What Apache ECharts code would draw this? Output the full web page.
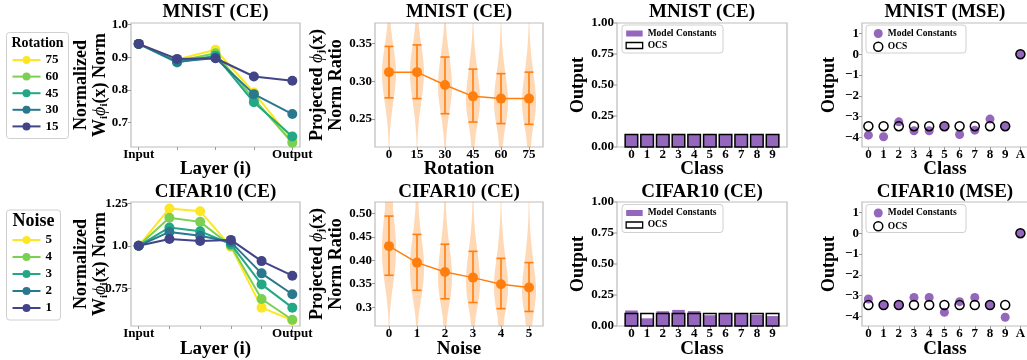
<!DOCTYPE html>
<html><head><meta charset="utf-8">
<script src="https://cdn.jsdelivr.net/npm/echarts@6/dist/echarts.min.js"></script>
<style>html,body{margin:0;padding:0;background:#fff}#c{width:1027px;height:360px}</style>
</head><body><div id="c"></div>
<script>
// ------------------------- DATA -------------------------
const panelTitles = ['MNIST (CE)', 'MNIST (CE)', 'MNIST (CE)', 'MNIST (MSE)',
                     'CIFAR10 (CE)', 'CIFAR10 (CE)', 'CIFAR10 (CE)', 'CIFAR10 (MSE)'];

// Layer-wise normalized norms
const mnistLayerLabels = ['Input', '', '', '', 'Output'];
const cifarLayerLabels = ['Input', '', '', '', '', 'Output'];
const rotationLegend = ['75', '60', '45', '30', '15'];
const mnistNorm75 = [0.941, 0.893, 0.923, 0.792, 0.645];
const mnistNorm60 = [0.941, 0.888, 0.912, 0.772, 0.638];
const mnistNorm45 = [0.941, 0.884, 0.905, 0.762, 0.657];
const mnistNorm30 = [0.941, 0.886, 0.898, 0.787, 0.726];
const mnistNorm15 = [0.941, 0.895, 0.897, 0.841, 0.828];
const noiseLegend = ['5', '4', '3', '2', '1'];
const cifarNorm5 = [1.0, 1.220, 1.204, 0.995, 0.636, 0.562];
const cifarNorm4 = [1.0, 1.165, 1.141, 1.000, 0.687, 0.565];
const cifarNorm3 = [1.0, 1.108, 1.086, 1.010, 0.773, 0.636];
const cifarNorm2 = [1.0, 1.082, 1.059, 1.022, 0.838, 0.715];
const cifarNorm1 = [1.0, 1.040, 1.028, 1.035, 0.910, 0.824];

// Projected norm ratio (violins + mean with error bars)
const rotationLabels = ['0', '15', '30', '45', '60', '75'];
const mnistRatioMean = [0.312, 0.312, 0.295, 0.280, 0.277, 0.277];
const mnistRatioLow  = [0.278, 0.277, 0.257, 0.246, 0.244, 0.243];
const mnistRatioHigh = [0.346, 0.348, 0.332, 0.316, 0.310, 0.312];
const mnistViolinLevels = [0.21, 0.23, 0.25, 0.27, 0.29, 0.31, 0.33, 0.35, 0.37, 0.39];
const mnistViolin0  = [0.03, 0.12, 0.30, 0.58, 0.86, 1.00, 0.86, 0.56, 0.28, 0.10];
const mnistViolin15 = [0.03, 0.12, 0.30, 0.58, 0.85, 1.00, 0.88, 0.58, 0.30, 0.11];
const mnistViolin30 = [0.06, 0.22, 0.48, 0.80, 1.00, 0.92, 0.66, 0.38, 0.17, 0.06];
const mnistViolin45 = [0.15, 0.40, 0.75, 1.00, 0.93, 0.68, 0.42, 0.20, 0.08, 0.03];
const mnistViolin60 = [0.17, 0.44, 0.80, 1.00, 0.90, 0.62, 0.36, 0.17, 0.07, 0.02];
const mnistViolin75 = [0.17, 0.44, 0.80, 1.00, 0.90, 0.63, 0.37, 0.18, 0.07, 0.02];

const noiseLabels = ['0', '1', '2', '3', '4', '5'];
const cifarRatioMean = [0.430, 0.395, 0.375, 0.363, 0.349, 0.342];
const cifarRatioLow  = [0.368, 0.336, 0.318, 0.310, 0.297, 0.291];
const cifarRatioHigh = [0.494, 0.455, 0.434, 0.419, 0.404, 0.395];
const cifarViolinLevels = [0.26, 0.28, 0.30, 0.33, 0.36, 0.39, 0.42, 0.45, 0.48, 0.51, 0.53];
const cifarViolin0 = [0.05, 0.10, 0.20, 0.42, 0.70, 0.92, 1.00, 0.95, 0.78, 0.58, 0.45];
const cifarViolin1 = [0.10, 0.22, 0.40, 0.72, 0.95, 1.00, 0.88, 0.62, 0.40, 0.22, 0.15];
const cifarViolin2 = [0.18, 0.33, 0.55, 0.85, 1.00, 0.93, 0.72, 0.47, 0.27, 0.14, 0.09];
const cifarViolin3 = [0.22, 0.40, 0.63, 0.92, 1.00, 0.86, 0.62, 0.38, 0.20, 0.10, 0.06];
const cifarViolin4 = [0.32, 0.50, 0.74, 0.98, 0.97, 0.76, 0.50, 0.30, 0.15, 0.07, 0.04];
const cifarViolin5 = [0.38, 0.57, 0.80, 1.00, 0.92, 0.68, 0.44, 0.25, 0.12, 0.06, 0.03];

// CE outputs (bars)
const classLabels = ['0', '1', '2', '3', '4', '5', '6', '7', '8', '9'];
const mnistCEModel = [0.100, 0.104, 0.100, 0.100, 0.101, 0.100, 0.100, 0.100, 0.100, 0.100];
const mnistCEOCS   = [0.1, 0.1, 0.1, 0.1, 0.1, 0.1, 0.1, 0.1, 0.1, 0.1];
const cifarCEModel = [0.125, 0.062, 0.119, 0.130, 0.120, 0.087, 0.101, 0.100, 0.090, 0.080];
const cifarCEOCS   = [0.1, 0.1, 0.1, 0.1, 0.1, 0.1, 0.1, 0.1, 0.1, 0.1];

// MSE outputs (scatter)
const classLabelsA = ['0', '1', '2', '3', '4', '5', '6', '7', '8', '9', 'A'];
const mnistMSEModel = [-3.89, -3.97, -3.25, -3.68, -3.68, -3.46, -3.86, -3.65, -3.12, -3.46, 0.0];
const mnistMSEOCS   = [-3.46, -3.46, -3.46, -3.46, -3.46, -3.46, -3.46, -3.46, -3.46, -3.46, 0.0];
const cifarMSEModel = [-3.16, -3.45, -3.45, -3.09, -3.09, -3.80, -3.29, -3.09, -3.45, -4.04, 0.0];
const cifarMSEOCS   = [-3.45, -3.45, -3.45, -3.45, -3.45, -3.45, -3.45, -3.45, -3.45, -3.45, 0.0];

// Tick values / labels
const mnistNormTicks = [0.7, 0.8, 0.9, 1.0];
const mnistNormTickLabels = ['0.7', '0.8', '0.9', '1.0'];
const cifarNormTicks = [0.75, 1.0, 1.25];
const cifarNormTickLabels = ['0.75', '1.0', '1.25'];
const mnistRatioTicks = [0.25, 0.30, 0.35];
const mnistRatioTickLabels = ['0.25', '0.30', '0.35'];
const cifarRatioTicks = [0.30, 0.35, 0.40, 0.45, 0.50];
const cifarRatioTickLabels = ['0.3', '0.35', '0.40', '0.45', '0.50'];
const outputTicks = [0, 0.25, 0.5, 0.75, 1.0];
const outputTickLabels = ['0.00', '0.25', '0.50', '0.75', '1.00'];
const mseTicks = [-4, -3, -2, -1, 0, 1];
const mseTickLabels = ['\u22124', '\u22123', '\u22122', '\u22121', '0', '1'];

// ------------------------- STYLE -------------------------
const FONT = '"Liberation Serif", "DejaVu Serif", serif';
const VIRIDIS = ['#fde725', '#7ad151', '#22a884', '#2a788e', '#414487'];
const ORANGE = '#ff7f0e';
const PURPLE = '#9467bd';
const SPINE = '#bdbdbd';
const colLeft = [131, 375, 617, 862];
const colWidth = [169, 168, 170, 166];
const rowTop = [23, 202];
const rowHeight = 124;

const grids = [];
for (let r = 0; r < 2; r++) for (let c = 0; c < 4; c++) {
  grids.push({left: colLeft[c], top: rowTop[r], width: colWidth[c], height: rowHeight,
    show: true, borderColor: SPINE, borderWidth: 1.2, backgroundColor: 'rgba(0,0,0,0)',
    containLabel: false, outerBoundsMode: 'none'});
}

const tickText = {fontFamily: FONT, fontWeight: 'bold', fontSize: 13, color: '#000'};
function lookup(values, labels) {
  return function (v) {
    const num = Number(v);
    for (let k = 0; k < values.length; k++) if (Math.abs(values[k] - num) < 1e-6) return labels[k];
    return '';
  };
}
function idx(n) { const a = []; for (let k = 0; k < n; k++) a.push(k); return a; }
function xAxis(gi, min, max, labels) {
  const ticks = idx(labels.length);
  const labVals = ticks.filter(k => labels[k] !== '');
  return {type: 'value', gridIndex: gi, min: min, max: max, position: 'bottom',
    axisLine: {show: false, onZero: false}, splitLine: {show: false},
    axisTick: {show: true, length: 3, lineStyle: {color: '#999', width: 1}, customValues: ticks},
    axisLabel: Object.assign({customValues: labVals, formatter: lookup(ticks, labels), margin: 1.5, hideOverlap: false}, tickText)};
}
function yAxis(gi, min, max, ticks, labels, viaGraphic) {
  return {type: 'value', gridIndex: gi, min: min, max: max, position: 'left',
    axisLine: {show: false, onZero: false}, splitLine: {show: false},
    axisTick: {show: !viaGraphic, length: 3, lineStyle: {color: '#999', width: 1}, customValues: ticks},
    axisLabel: Object.assign({show: !viaGraphic, customValues: ticks, formatter: lookup(ticks, labels), margin: 3,
      showMinLabel: true, showMaxLabel: true, hideOverlap: false}, tickText)};
}

const xAxes = [
  xAxis(0, -0.2, 4.2, mnistLayerLabels),
  xAxis(1, -0.5, 5.5, rotationLabels),
  xAxis(2, -0.92, 9.92, classLabels),
  xAxis(3, -0.42, 10.5, classLabelsA),
  xAxis(4, -0.25, 5.25, cifarLayerLabels),
  xAxis(5, -0.5, 5.5, noiseLabels),
  xAxis(6, -0.92, 9.92, classLabels),
  xAxis(7, -0.42, 10.5, classLabelsA)
];
const yAxes = [
  yAxis(0, 0.625, 1.005, mnistNormTicks, mnistNormTickLabels),
  yAxis(1, 0.213, 0.377, mnistRatioTicks, mnistRatioTickLabels),
  yAxis(2, 0, 1, outputTicks, outputTickLabels, true),
  yAxis(3, -4.46, 1.5, mseTicks, mseTickLabels),
  yAxis(4, 0.528, 1.258, cifarNormTicks, cifarNormTickLabels),
  yAxis(5, 0.26, 0.524, cifarRatioTicks, cifarRatioTickLabels),
  yAxis(6, 0, 1, outputTicks, outputTickLabels, true),
  yAxis(7, -4.46, 1.5, mseTicks, mseTickLabels)
];

const series = [];
function toXY(arr) { return arr.map((v, i) => [i, v]); }

// Line panels
[mnistNorm75, mnistNorm60, mnistNorm45, mnistNorm30, mnistNorm15].forEach((arr, k) => {
  series.push({type: 'line', name: rotationLegend[k], xAxisIndex: 0, yAxisIndex: 0, data: toXY(arr),
    symbol: 'circle', symbolSize: 10, lineStyle: {width: 2, color: VIRIDIS[k]}, itemStyle: {color: VIRIDIS[k]},
    z: 3 + k * 0.01, silent: true});
});
[cifarNorm5, cifarNorm4, cifarNorm3, cifarNorm2, cifarNorm1].forEach((arr, k) => {
  series.push({type: 'line', name: noiseLegend[k], xAxisIndex: 4, yAxisIndex: 4, data: toXY(arr),
    symbol: 'circle', symbolSize: 10, lineStyle: {width: 2, color: VIRIDIS[k]}, itemStyle: {color: VIRIDIS[k]},
    z: 3 + k * 0.01, silent: true});
});

// Violin panels
const VIOLIN_HALF = 0.25;
function violinRender(levels, dens) {
  return function (params, api) {
    const x = api.value(0);
    const d = dens[params.dataIndex];
    const right = [], left = [];
    for (let k = 0; k < levels.length; k++) {
      right.push(api.coord([x + VIOLIN_HALF * d[k], levels[k]]));
      left.push(api.coord([x - VIOLIN_HALF * d[k], levels[k]]));
    }
    return {type: 'polygon', shape: {points: right.concat(left.reverse()), smooth: 0.35},
      style: {fill: 'rgba(255,127,14,0.3)'}};
  };
}
function errRender(params, api) {
  const x = api.value(0);
  const lo = api.coord([x, api.value(1)]);
  const hi = api.coord([x, api.value(2)]);
  const cap = 4.5;
  const st = {stroke: ORANGE, lineWidth: 1.6};
  return {type: 'group', children: [
    {type: 'line', shape: {x1: lo[0], y1: lo[1], x2: hi[0], y2: hi[1]}, style: st},
    {type: 'line', shape: {x1: lo[0] - cap, y1: lo[1], x2: lo[0] + cap, y2: lo[1]}, style: st},
    {type: 'line', shape: {x1: hi[0] - cap, y1: hi[1], x2: hi[0] + cap, y2: hi[1]}, style: st}
  ]};
}
function addViolinPanel(gi, labels, levels, dens, mean, low, high) {
  series.push({type: 'custom', xAxisIndex: gi, yAxisIndex: gi, clip: true, silent: true, z: 1,
    data: labels.map((_, i) => [i]), encode: {x: 0}, renderItem: violinRender(levels, dens)});
  series.push({type: 'custom', xAxisIndex: gi, yAxisIndex: gi, silent: true, z: 2,
    data: low.map((v, i) => [i, v, high[i]]), encode: {x: 0, y: [1, 2]}, renderItem: errRender});
  series.push({type: 'line', xAxisIndex: gi, yAxisIndex: gi, data: toXY(mean), silent: true, z: 3,
    symbol: 'circle', symbolSize: 10, lineStyle: {width: 1.5, color: ORANGE}, itemStyle: {color: ORANGE}});
}
addViolinPanel(1, rotationLabels, mnistViolinLevels,
  [mnistViolin0, mnistViolin15, mnistViolin30, mnistViolin45, mnistViolin60, mnistViolin75],
  mnistRatioMean, mnistRatioLow, mnistRatioHigh);
addViolinPanel(5, noiseLabels, cifarViolinLevels,
  [cifarViolin0, cifarViolin1, cifarViolin2, cifarViolin3, cifarViolin4, cifarViolin5],
  cifarRatioMean, cifarRatioLow, cifarRatioHigh);

// Bar panels
const BAR_HALF = 0.4;
function barRender(style) {
  return function (params, api) {
    const x = api.value(0);
    const p0 = api.coord([x - BAR_HALF, api.value(1)]);
    const p1 = api.coord([x + BAR_HALF, 0]);
    return {type: 'rect', shape: {x: p0[0], y: p0[1], width: p1[0] - p0[0], height: p1[1] - p0[1]}, style: style};
  };
}
function addBarPanel(gi, model, ocs) {
  series.push({type: 'custom', name: 'Model Constants', xAxisIndex: gi, yAxisIndex: gi, silent: true, z: 2,
    data: toXY(model), encode: {x: 0, y: 1}, renderItem: barRender({fill: PURPLE})});
  series.push({type: 'custom', name: 'OCS', xAxisIndex: gi, yAxisIndex: gi, silent: true, z: 3,
    data: toXY(ocs), encode: {x: 0, y: 1}, renderItem: barRender({fill: 'none', stroke: '#000', lineWidth: 1.5})});
}
addBarPanel(2, mnistCEModel, mnistCEOCS);
addBarPanel(6, cifarCEModel, cifarCEOCS);

// Scatter panels
function addScatterPanel(gi, model, ocs) {
  series.push({type: 'scatter', name: 'Model Constants', xAxisIndex: gi, yAxisIndex: gi, silent: true, z: 2,
    data: toXY(model), symbol: 'circle', symbolSize: 9, itemStyle: {color: PURPLE, opacity: 1}});
  series.push({type: 'scatter', name: 'OCS', xAxisIndex: gi, yAxisIndex: gi, silent: true, z: 3,
    data: toXY(ocs), symbol: 'circle', symbolSize: 9,
    itemStyle: {color: 'rgba(0,0,0,0)', borderColor: '#000', borderWidth: 1.5, opacity: 1}});
}
addScatterPanel(3, mnistMSEModel, mnistMSEOCS);
addScatterPanel(7, cifarMSEModel, cifarMSEOCS);

// Legends
const lineLegendText = {fontFamily: FONT, fontWeight: 'bold', fontSize: 13, lineHeight: 14, color: '#000'};
const smallLegendText = {fontFamily: FONT, fontWeight: 'bold', fontSize: 9.5, lineHeight: 10, color: '#000'};
function barLegendData() {
  return [{name: 'Model Constants', icon: 'rect', itemStyle: {color: PURPLE, borderWidth: 0}},
          {name: 'OCS', icon: 'rect', itemStyle: {color: '#fff', borderColor: '#000', borderWidth: 1.3}}];
}
function scatterLegendData() {
  return [{name: 'Model Constants', icon: 'circle', itemStyle: {color: PURPLE, borderWidth: 0}},
          {name: 'OCS', icon: 'circle', itemStyle: {color: 'rgba(0,0,0,0)', borderColor: '#000', borderWidth: 1.5}}];
}
const legends = [
  {orient: 'vertical', left: 11.5, top: 53, padding: 0, itemWidth: 28, itemHeight: 10, itemGap: 2.6, itemTextGap: 7,
   data: rotationLegend, textStyle: lineLegendText, selectedMode: false},
  {orient: 'vertical', left: 11.5, top: 233, padding: 0, itemWidth: 28, itemHeight: 10, itemGap: 3, itemTextGap: 8,
   data: noiseLegend, textStyle: lineLegendText, selectedMode: false},
  {orient: 'vertical', left: 625.5, top: 28.5, padding: 0, itemWidth: 16.5, itemHeight: 6, itemGap: 2, itemTextGap: 7,
   data: barLegendData(), textStyle: smallLegendText, selectedMode: false},
  {orient: 'vertical', left: 625.5, top: 208, padding: 0, itemWidth: 16.5, itemHeight: 6, itemGap: 2, itemTextGap: 7,
   data: barLegendData(), textStyle: smallLegendText, selectedMode: false},
  {orient: 'vertical', left: 873, top: 28.5, padding: 0, itemWidth: 9, itemHeight: 9, itemGap: 3, itemTextGap: 11,
   data: scatterLegendData(), textStyle: smallLegendText, selectedMode: false},
  {orient: 'vertical', left: 873, top: 208, padding: 0, itemWidth: 9, itemHeight: 9, itemGap: 3, itemTextGap: 11,
   data: scatterLegendData(), textStyle: smallLegendText, selectedMode: false}
];

// Graphic texts (titles, axis names, legend titles)
const graphic = [];
function boxRect(x, y, w, h) {
  graphic.push({type: 'rect', z: 1, silent: true, shape: {x: x, y: y, width: w, height: h, r: 3},
    style: {fill: 'rgba(255,255,255,0.8)', stroke: '#d0d0d0', lineWidth: 1}});
}
boxRect(6.5, 32.5, 62, 106);
boxRect(6.5, 210, 54, 110);
boxRect(622, 25, 101, 28);
boxRect(622, 204.5, 101, 28);
boxRect(866, 25, 100, 28);
boxRect(866, 204.5, 100, 28);

function txt(x, y, text, size, rot, rich, lh) {
  graphic.push({type: 'text', x: x, y: y, rotation: rot || 0, z: 10, silent: true,
    style: {text: text, fontFamily: FONT, fontWeight: 'bold', fontSize: size, lineHeight: lh || size, fill: '#000',
      align: 'center', verticalAlign: 'middle', rich: rich}});
}
txt(37.5, 43, 'Rotation', 14);
txt(33.5, 221, 'Noise', 18);
for (let r = 0; r < 2; r++) for (let c = 0; c < 4; c++) {
  txt(colLeft[c] + colWidth[c] / 2, r === 0 ? 12 : 192.5, panelTitles[r * 4 + c], 19);
}
const xNames = [['Layer (i)', 'Rotation', 'Class', 'Class'], ['Layer (i)', 'Noise', 'Class', 'Class']];
for (let r = 0; r < 2; r++) for (let c = 0; c < 4; c++) {
  txt(colLeft[c] + colWidth[c] / 2, r === 0 ? 169.5 : 349, xNames[r][c], 19);
}
const rich = {
  b: {fontFamily: FONT, fontWeight: 'bold', fontSize: 18, lineHeight: 19, fill: '#000'},
  m: {fontFamily: FONT, fontStyle: 'italic', fontWeight: 'normal', fontSize: 18, lineHeight: 19, fill: '#000'},
  s: {fontFamily: FONT, fontWeight: 'bold', fontSize: 11, lineHeight: 8, verticalAlign: 'bottom', fill: '#000'}
};
const normLabel = '{b|Normalized}\n{b|W}{s|i}{m|\u03d5}{s|i}{b|(x) Norm}';
const ratioLabel = '{b|Projected }{m|\u03d5}{s|j}{b|(x)}\n{b|Norm Ratio}';
for (let r = 0; r < 2; r++) {
  const cy = rowTop[r] + rowHeight / 2;
  txt(91, cy, normLabel, 18, Math.PI / 2, rich);
  txt(327, cy, ratioLabel, 18, Math.PI / 2, rich);
  txt(578.5, cy, 'Output', 18, Math.PI / 2, null, 15);
  txt(829.5, cy, 'Output', 18, Math.PI / 2, null, 15);
}

const chart = echarts.init(document.getElementById('c'), null, {renderer: 'canvas'});
chart.setOption({
  animation: false,
  backgroundColor: '#fff',
  grid: grids,
  xAxis: xAxes,
  yAxis: yAxes,
  legend: legends,
  series: series,
  graphic: graphic
});

// Output-axis tick labels and ticks placed through the axis scale
const extra = [];
[[2, colLeft[2]], [6, colLeft[2]]].forEach(([gi, left]) => {
  outputTicks.forEach((v, k) => {
    const py = chart.convertToPixel({yAxisIndex: gi}, v);
    extra.push({type: 'text', x: left - 3, y: py, z: 100, silent: true,
      style: {text: outputTickLabels[k], fontFamily: FONT, fontWeight: 'bold', fontSize: 13, fill: '#000',
        align: 'right', verticalAlign: 'middle'}});
    extra.push({type: 'line', z: 100, silent: true, shape: {x1: left - 3, y1: py, x2: left, y2: py},
      style: {stroke: '#999', lineWidth: 1}});
  });
});
chart.setOption({graphic: graphic.concat(extra)});
</script></body></html>
